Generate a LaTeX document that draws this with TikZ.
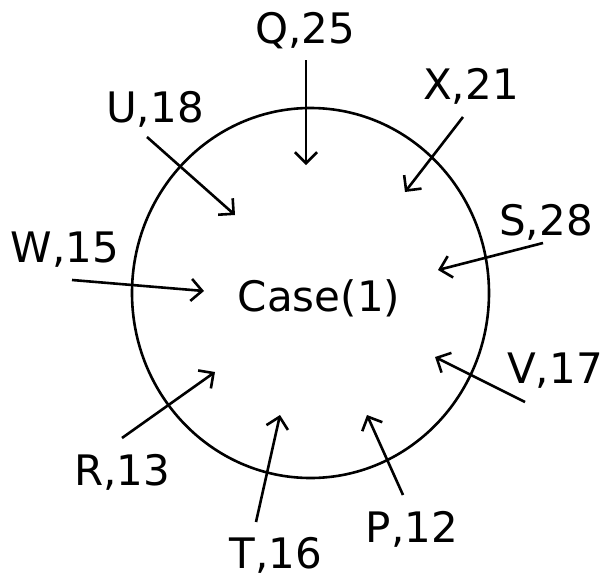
\documentclass[tikz,border=0pt]{standalone}
\usepackage{fontspec}
\setmainfont{DejaVu Sans}
\usetikzlibrary{arrows.meta}
\begin{document}
\begin{tikzpicture}[x=1pt,y=-1pt,
  lbl/.style={anchor=base,inner sep=0pt,font=\fontsize{42}{50}\selectfont},
  arr/.style={line width=2.6pt,-{Straight Barb[length=11pt,width=22pt,line width=2.6pt]}}]
\useasboundingbox (0,0) rectangle (603,584);
\draw[line width=2.6pt] (310.5,293) ellipse [x radius=178.5, y radius=185];
\node[lbl] (case) at (319,311) {Case(1)};
\node[lbl] (q) at (305,43) {Q,25};
\node[lbl] (x) at (471,99) {X,21};
\node[lbl] (s) at (546,235) {S,28};
\node[lbl] (v) at (555,383) {V,17};
\node[lbl] (p) at (412,542) {P,12};
\node[lbl] (t) at (276,568) {T,16};
\node[lbl] (r) at (122,485) {R,13};
\node[lbl] (w) at (65,262) {W,15};
\node[lbl] (u) at (155,122) {U,18};
\coordinate (q1) at (306,60);  \coordinate (q2) at (306,165);
\coordinate (x1) at (463,117); \coordinate (x2) at (405,192);
\coordinate (s1) at (543,243); \coordinate (s2) at (438,270);
\coordinate (v1) at (525,402); \coordinate (v2) at (435,357);
\coordinate (p1) at (403,495); \coordinate (p2) at (367,415);
\coordinate (t1) at (256,522); \coordinate (t2) at (280,415);
\coordinate (r1) at (122,438); \coordinate (r2) at (215,372);
\coordinate (w1) at (72,280);  \coordinate (w2) at (204,291);
\coordinate (u1) at (147,137); \coordinate (u2) at (235,215);
\foreach \a in {q,x,s,v,p,t,r,w,u}{\draw[arr] (\a1) -- (\a2);}
\end{tikzpicture}
\end{document}
